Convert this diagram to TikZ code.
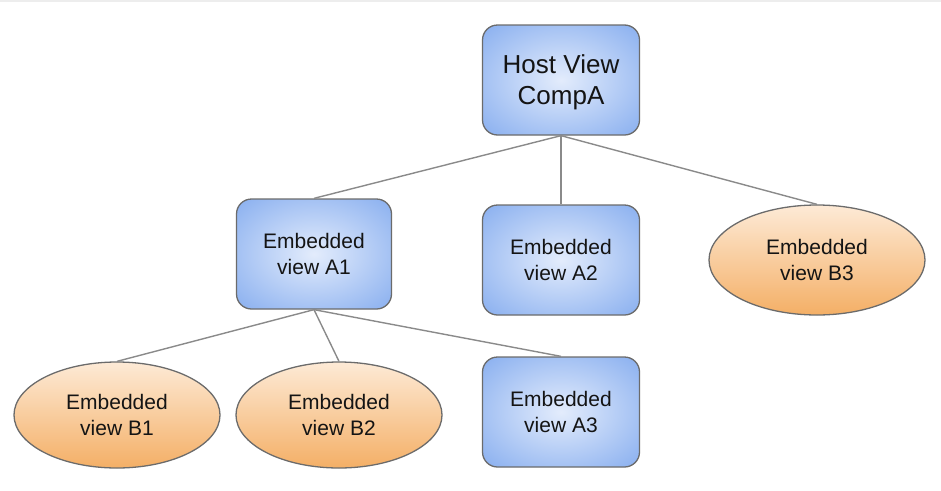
\documentclass[tikz,border=0pt]{standalone}
\usepackage{fontspec}
\setmainfont{Liberation Sans}
\usetikzlibrary{shapes.geometric}
\definecolor{viewblue}{HTML}{6496EA}
\definecolor{viewlight}{HTML}{E3ECFC}
\definecolor{embtop}{HTML}{FDEAD6}
\definecolor{embbottom}{HTML}{F4AF66}
\definecolor{rimgray}{HTML}{6B6B6B}
\definecolor{linkgray}{HTML}{8A8A8A}
\pgfdeclareradialshading{viewglow}{\pgfpoint{0bp}{0bp}}{%
  color(0bp)=(viewlight); color(50bp)=(viewblue); color(75bp)=(viewblue)}
\begin{document}
\begin{tikzpicture}[x=1pt, y=-1pt,
    viewbox/.style={rectangle, rounded corners=15pt, draw=rimgray, line width=1.3pt,
      shading=viewglow, minimum width=157pt, minimum height=110pt, inner sep=0pt,
      align=center, text=black!92, font=\fontsize{21}{26}\selectfont},
    embview/.style={ellipse, draw=rimgray, line width=1.3pt,
      top color=embtop, bottom color=embbottom, minimum width=206pt, minimum height=106pt,
      inner sep=0pt, align=center, text=black!92, font=\fontsize{21}{26}\selectfont},
    link/.style={draw=linkgray, line width=1.4pt}]
  \useasboundingbox (0,0) rectangle (941,490);
  \fill[black!7] (0,0) rectangle (941,1.5);
  % host and children
  \node[viewbox, font=\fontsize{26}{31}\selectfont, text depth=0pt] (host) at (561,80) {Host View\\CompA};
  \node[viewbox, minimum width=155pt] (a1) at (314,254) {Embedded\\view A1};
  \node[viewbox] (a2) at (561,260) {Embedded\\view A2};
  \node[embview, minimum width=216pt, minimum height=110pt] (b3) at (817,260) {Embedded\\view B3};
  % children of A1
  \node[embview] (b1) at (117,415) {Embedded\\view B1};
  \node[embview] (b2) at (339,415) {Embedded\\view B2};
  \node[viewbox] (a3) at (561,412) {Embedded\\view A3};
  \draw[link] (host.south) -- (a1.north);
  \draw[link] (host.south) -- (a2.north);
  \draw[link] (host.south) -- (b3.north);
  \draw[link] (a1.south) -- (b1.north);
  \draw[link] (a1.south) -- (b2.north);
  \draw[link] (a1.south) -- (a3.north);
\end{tikzpicture}
\end{document}
